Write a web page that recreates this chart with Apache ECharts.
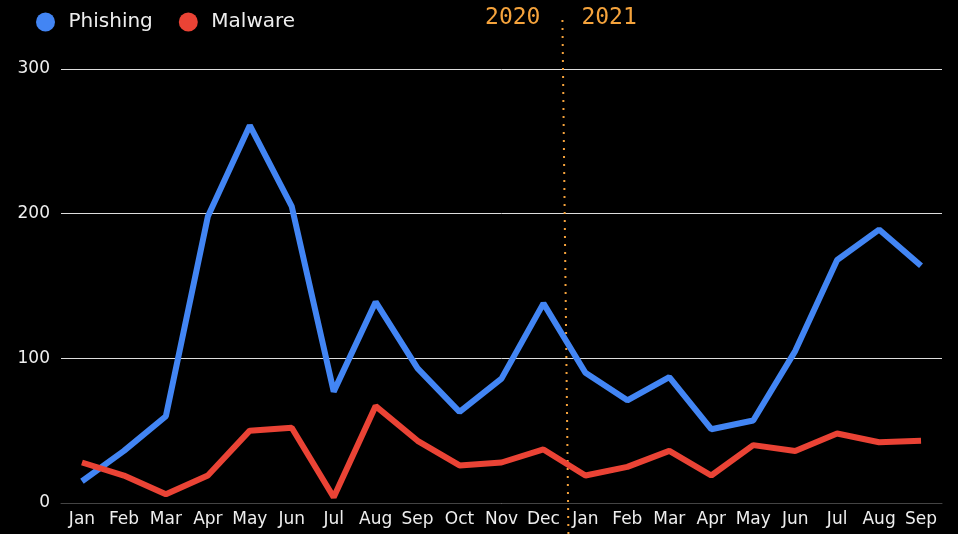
<!DOCTYPE html>
<html>
<head>
<meta charset="utf-8">
<script src="https://cdn.jsdelivr.net/npm/echarts@6/dist/echarts.min.js"></script>
<style>
  html, body { margin: 0; padding: 0; background: #000; }
  #chart { width: 958px; height: 534px; }
</style>
</head>
<body>
<div id="chart"></div>
<script>
// months Jan 2020 .. Sep 2021
const months = ['Jan', 'Feb', 'Mar', 'Apr', 'May', 'Jun', 'Jul', 'Aug', 'Sep', 'Oct', 'Nov', 'Dec',
  'Jan', 'Feb', 'Mar', 'Apr', 'May', 'Jun', 'Jul', 'Aug', 'Sep']
const phishing = [15, 36, 60, 198, 261, 205, 77, 139, 93, 63, 86, 138, 90, 71, 87, 51, 57, 105, 168, 189, 164]
const malware = [28, 19, 6, 19, 50, 52, 4, 67, 43, 26, 28, 37, 19, 25, 36, 19, 40, 36, 48, 42, 43]
const years = ['2020', '2021']
const lastIndexOf2020 = 11

const orange = '#f5a33c'
const chart = echarts.init(document.getElementById('chart'))

const option = {
  backgroundColor: '#000',
  animation: false,
  textStyle: { fontFamily: 'DejaVu Sans' },
  legend: {
    left: 31,
    top: 7,
    icon: 'circle',
    itemWidth: 36,
    itemHeight: 19,
    itemGap: 26,
    textStyle: { color: '#eee', fontSize: 20 },
    data: ['Phishing', 'Malware'],
  },
  grid: {
    left: 61,
    right: 16,
    top: 69,
    bottom: 31,
  },
  xAxis: {
    type: 'category',
    data: months,
    axisLine: { lineStyle: { color: '#444' } },
    axisTick: { show: false },
    axisLabel: { color: '#eee', fontSize: 17, margin: 8, interval: 0 },
  },
  yAxis: {
    type: 'value',
    min: 0,
    max: 300,
    interval: 100,
    axisLine: { show: false },
    axisTick: { show: false },
    axisLabel: { color: '#eee', fontSize: 17, margin: 11 },
    splitLine: { lineStyle: { color: '#ddd', width: 1 } },
  },
  series: [
    {
      name: 'Phishing',
      type: 'line',
      data: phishing,
      symbol: 'none',
      itemStyle: { color: '#4285f4' },
      lineStyle: { width: 6, color: '#4285f4' },
    },
    {
      name: 'Malware',
      type: 'line',
      data: malware,
      symbol: 'none',
      itemStyle: { color: '#ea4335' },
      lineStyle: { width: 6, color: '#ea4335' },
    },
  ],
}
chart.setOption(option)

// year divider between Dec and Jan
const xa = chart.convertToPixel({ xAxisIndex: 0 }, lastIndexOf2020)
const xb = chart.convertToPixel({ xAxisIndex: 0 }, lastIndexOf2020 + 1)
const mid = (xa + xb) / 2
chart.setOption({
  graphic: [
    {
      type: 'line',
      shape: { x1: mid - 2, y1: 20, x2: mid + 4, y2: 534 },
      style: { stroke: orange, lineWidth: 2, lineDash: [2, 6] },
      silent: true,
    },
    {
      type: 'text',
      x: mid - 24,
      y: 18,
      style: {
        text: years[0], fill: orange, font: '23px "DejaVu Sans Mono"',
        textAlign: 'right', textVerticalAlign: 'middle',
      },
    },
    {
      type: 'text',
      x: mid + 17,
      y: 18,
      style: {
        text: years[1], fill: orange, font: '23px "DejaVu Sans Mono"',
        textAlign: 'left', textVerticalAlign: 'middle',
      },
    },
  ],
})
</script>
</body>
</html>
